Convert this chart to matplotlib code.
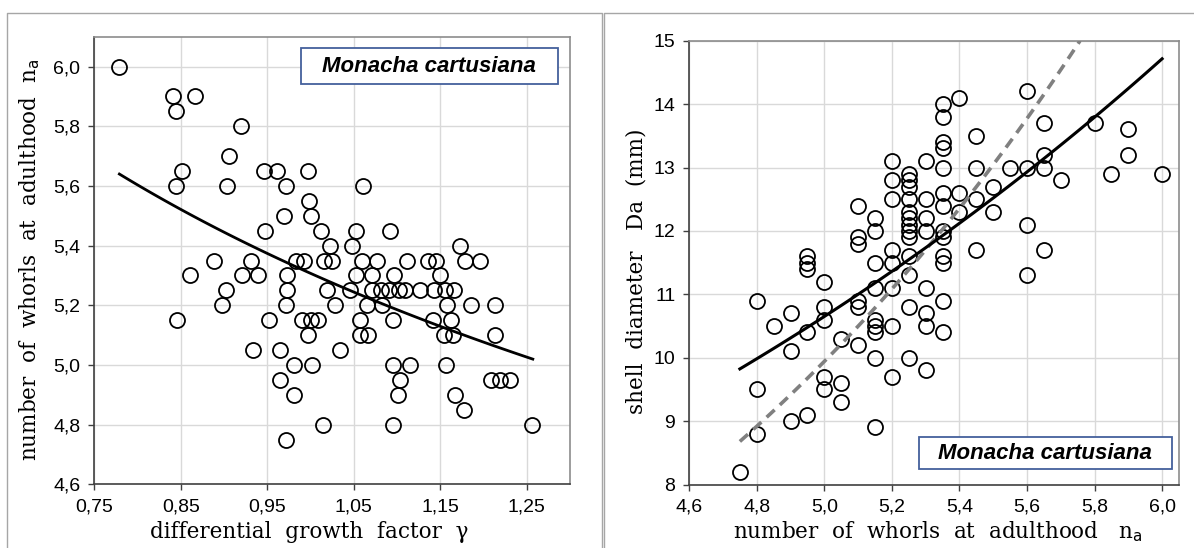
import numpy as np
import matplotlib.pyplot as plt
from matplotlib.lines import Line2D
from matplotlib.patches import Rectangle

plt.rcParams["mathtext.fontset"] = "dejavusans"

# differential growth factor vs number of whorls at adulthood
gamma = [
    0.779, 0.841, 0.866, 0.844, 0.920, 0.906, 0.851, 0.844, 0.904, 0.946,
    0.961, 0.997, 0.972, 1.061, 0.998, 0.969, 1.001, 0.947, 1.012, 1.052,
    1.092, 1.022, 1.048, 1.173, 0.888, 0.931, 0.983, 0.993, 1.016, 1.025,
    1.059, 1.077, 1.111, 1.136, 1.145, 1.179, 1.196,
    0.861, 0.921, 0.939, 0.973, 1.053, 1.071, 1.097, 1.150,
    0.902, 0.973, 1.019, 1.046, 1.071, 1.082, 1.091, 1.102, 1.109, 1.127,
    1.143, 1.156, 1.166,
    0.898, 0.972, 1.028, 1.065, 1.083, 1.158, 1.186, 1.213,
    0.846, 0.952, 0.990, 1.000, 1.009, 1.057, 1.095, 1.142, 1.162,
    0.997, 1.057, 1.066, 1.154, 1.165, 1.213,
    0.934, 0.965, 1.034,
    0.981, 1.002, 1.095, 1.115, 1.157,
    0.965, 1.103, 1.209, 1.219, 1.231,
    0.981, 1.101, 1.167,
    1.177,
    1.014, 1.095, 1.256,
    0.972,
]
whorls = [
    6.00, 5.90, 5.90, 5.85, 5.80, 5.70, 5.65, 5.60, 5.60, 5.65,
    5.65, 5.65, 5.60, 5.60, 5.55, 5.50, 5.50, 5.45, 5.45, 5.45,
    5.45, 5.40, 5.40, 5.40, 5.35, 5.35, 5.35, 5.35, 5.35, 5.35,
    5.35, 5.35, 5.35, 5.35, 5.35, 5.35, 5.35,
    5.30, 5.30, 5.30, 5.30, 5.30, 5.30, 5.30, 5.30,
    5.25, 5.25, 5.25, 5.25, 5.25, 5.25, 5.25, 5.25, 5.25, 5.25,
    5.25, 5.25, 5.25,
    5.20, 5.20, 5.20, 5.20, 5.20, 5.20, 5.20, 5.20,
    5.15, 5.15, 5.15, 5.15, 5.15, 5.15, 5.15, 5.15, 5.15,
    5.10, 5.10, 5.10, 5.10, 5.10, 5.10,
    5.05, 5.05, 5.05,
    5.00, 5.00, 5.00, 5.00, 5.00,
    4.95, 4.95, 4.95, 4.95, 4.95,
    4.90, 4.90, 4.90,
    4.85,
    4.80, 4.80, 4.80,
    4.75,
]

# number of whorls vs shell diameter (mm)
na_col = [4.75, 4.80, 4.85, 4.90, 4.95, 5.00, 5.05, 5.10, 5.15, 5.20,
          5.25, 5.30, 5.35, 5.40, 5.45, 5.50, 5.55, 5.60, 5.65, 5.70,
          5.80, 5.85, 5.90, 6.00]
diam_col = [
    [8.2],
    [10.9, 9.5, 8.8],
    [10.5],
    [10.7, 10.1, 9.0],
    [11.6, 11.5, 11.4, 10.4, 9.1],
    [11.2, 10.8, 10.6, 9.7, 9.5],
    [10.3, 9.6, 9.3],
    [12.4, 11.9, 11.8, 10.9, 10.8, 10.2],
    [12.2, 12.0, 11.5, 11.1, 10.6, 10.5, 10.4, 10.0, 8.9],
    [13.1, 12.8, 12.5, 11.7, 11.5, 11.1, 10.5, 9.7],
    [12.9, 12.8, 12.7, 12.5, 12.3, 12.2, 12.1, 12.0, 11.9, 11.6, 11.3, 10.8, 10.0],
    [13.1, 12.5, 12.2, 12.0, 11.1, 10.7, 10.5, 9.8],
    [14.0, 13.8, 13.4, 13.3, 13.0, 12.6, 12.4, 12.0, 11.9, 11.6, 11.5, 10.9, 10.4],
    [14.1, 12.6, 12.3],
    [13.5, 13.0, 12.5, 11.7],
    [12.7, 12.3],
    [13.0],
    [14.2, 13.0, 12.1, 11.3],
    [13.7, 13.2, 13.0, 11.7],
    [12.8],
    [13.7],
    [12.9],
    [13.6, 13.2],
    [12.9],
]

# fitted curves
GAMMA_FIT = (5.307, -0.2435)      # na = a * gamma^b
GAMMA_FIT_RANGE = (0.779, 1.257)
DIAM_FIT = (2.115, 0.3233)        # D = a * exp(k * na)
DIAM_FIT_RANGE = (4.75, 6.0)
DIAM_REF = (0.6572, 0.5433)       # reference curve, dashed
DIAM_REF_RANGE = (4.75, 5.757)

left_xticks = [0.75, 0.85, 0.95, 1.05, 1.15, 1.25]
left_xticklabels = ["0,75", "0,85", "0,95", "1,05", "1,15", "1,25"]
left_yticks = [4.6, 4.8, 5.0, 5.2, 5.4, 5.6, 5.8, 6.0]
left_yticklabels = ["4,6", "4,8", "5,0", "5,2", "5,4", "5,6", "5,8", "6,0"]
right_xticks = [4.6, 4.8, 5.0, 5.2, 5.4, 5.6, 5.8, 6.0]
right_xticklabels = ["4,6", "4,8", "5,0", "5,2", "5,4", "5,6", "5,8", "6,0"]
right_yticks = [8, 9, 10, 11, 12, 13, 14, 15]
right_yticklabels = ["8", "9", "10", "11", "12", "13", "14", "15"]

SPECIES = "Monacha cartusiana"
W, H = 1194, 548


def fx(px):
    return px / W


def fy(py):
    return 1 - py / H


def style_axes(ax):
    ax.set_facecolor("white")
    ax.grid(True, color="#d9d9d9", lw=1.0)
    ax.set_axisbelow(True)
    for side in ("left", "bottom"):
        ax.spines[side].set_color("#404040")
        ax.spines[side].set_linewidth(1.2)
    for side in ("top", "right"):
        ax.spines[side].set_color("#8c8c8c")
        ax.spines[side].set_linewidth(1.2)
    ax.tick_params(direction="out", length=4, width=1, color="#404040",
                   labelsize=14, pad=6)
    for lab in ax.get_xticklabels() + ax.get_yticklabels():
        lab.set_fontfamily("Liberation Sans")


def species_box(fig, x0, y0, x1, y1):
    fig.add_artist(Rectangle((fx(x0), fy(y1)), fx(x1) - fx(x0), fy(y0) - fy(y1),
                             transform=fig.transFigure, facecolor="white",
                             edgecolor="#44609c", lw=1.3, zorder=5))
    fig.text(fx((x0 + x1) / 2), fy((y0 + y1) / 2), SPECIES, ha="center", va="center",
             family="Liberation Sans", fontsize=16, fontweight="bold",
             fontstyle="italic", zorder=6)


fig = plt.figure(figsize=(W / 100, H / 100), dpi=100)

# panel outlines
fig.add_artist(Line2D([fx(7.3), fx(7.3), fx(601.7), fx(601.7)],
                      [0, fy(13.3), fy(13.3), 0], color="#a6a6a6", lw=1.0))
fig.add_artist(Line2D([fx(604), fx(604), 1.0],
                      [0, fy(13.3), fy(13.3)], color="#a6a6a6", lw=1.0))

mk = dict(ls="none", marker="o", ms=10.8, mfc="none", mec="black", mew=1.3)

# left panel
ax1 = fig.add_axes([fx(94.3), fy(484.3), fx(570) - fx(94.3), fy(36.7) - fy(484.3)])
ax1.plot(gamma, whorls, **mk, zorder=3)
g = np.linspace(*GAMMA_FIT_RANGE, 100)
ax1.plot(g, GAMMA_FIT[0] * g ** GAMMA_FIT[1], color="black", lw=2.0, zorder=4)
ax1.set_xlim(0.75, 1.30)
ax1.set_ylim(4.6, 6.1)
ax1.set_xticks(left_xticks, left_xticklabels)
ax1.set_yticks(left_yticks, left_yticklabels)
style_axes(ax1)

# right panel
ax2 = fig.add_axes([fx(689.2), fy(484.5), fx(1179) - fx(689.2), fy(40.7) - fy(484.5)])
xs = [n for n, col in zip(na_col, diam_col) for _ in col]
ys = [d for col in diam_col for d in col]
ax2.plot(xs, ys, **mk, zorder=3)
n = np.linspace(*DIAM_REF_RANGE, 100)
ax2.plot(n, DIAM_REF[0] * np.exp(DIAM_REF[1] * n), color="#808080", lw=2.6,
         dashes=(3, 2), zorder=4)
n = np.linspace(*DIAM_FIT_RANGE, 100)
ax2.plot(n, DIAM_FIT[0] * np.exp(DIAM_FIT[1] * n), color="black", lw=2.2, zorder=4)
ax2.set_xlim(4.6, 6.05)
ax2.set_ylim(8, 15)
ax2.set_xticks(right_xticks, right_xticklabels)
ax2.set_yticks(right_yticks, right_yticklabels)
style_axes(ax2)

# axis titles
lab = dict(family="DejaVu Serif", fontsize=15.5, ha="center", va="center")
fig.text(fx(309), fy(532), "differential  growth  factor  γ", **lab)
fig.text(fx(30), fy(260), r"number  of  whorls  at  adulthood  n$_\mathrm{a}$",
         rotation=90, **lab)
fig.text(fx(938), fy(532), r"number  of  whorls  at  adulthood   n$_\mathrm{a}$", **lab)
fig.text(fx(637), fy(271), "shell  diameter   Da  (mm)", rotation=90, **lab)

species_box(fig, 300.7, 47.7, 557.7, 84.3)
species_box(fig, 918.7, 437.3, 1171.8, 469.3)

fig.savefig("out.png", dpi=100, facecolor="white")
